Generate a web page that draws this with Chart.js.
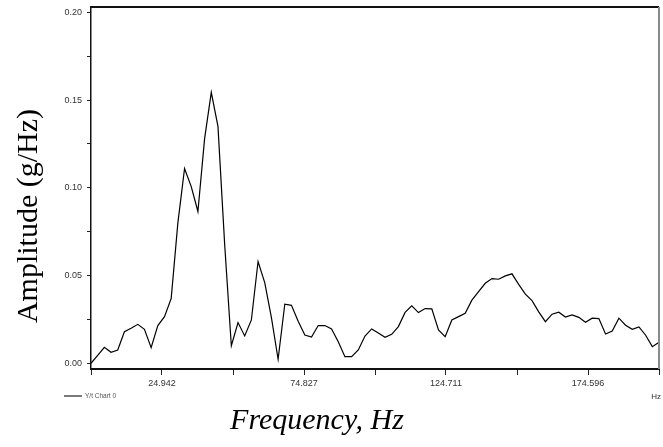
<!DOCTYPE html>
<html>
<head>
<meta charset="utf-8">
<script src="https://cdn.jsdelivr.net/npm/chart.js@4/dist/chart.umd.min.js"></script>
<style>
  html, body { margin: 0; padding: 0; background: #fff; }
  #chart { display: block; }
</style>
</head>
<body>
<canvas id="chart" width="663" height="447"></canvas>
<script>
// Spectrum: one amplitude value per FFT bin, bins spaced freqStep Hz apart
const freqStep = 2.34751;
const amplitude = [
    0.000, 0.0045, 0.0091, 0.0063, 0.0076, 0.018, 0.020, 0.0222, 0.0194, 0.0089,
    0.0215, 0.0266, 0.037, 0.080, 0.111, 0.1007, 0.0865, 0.128, 0.1544, 0.135,
    0.068, 0.010, 0.0232, 0.0156, 0.0247, 0.058, 0.046, 0.026, 0.0023, 0.0337,
    0.033, 0.024, 0.0161, 0.015, 0.0215, 0.0215, 0.0196, 0.0123, 0.0038, 0.0038,
    0.0076, 0.0155, 0.0196, 0.0173, 0.0148, 0.0165, 0.0209, 0.029, 0.0327, 0.0289,
    0.0312, 0.031, 0.019, 0.0152, 0.0247, 0.0266, 0.0285, 0.036, 0.0409, 0.0456,
    0.0483, 0.0479, 0.0498, 0.051, 0.045, 0.0394, 0.0357, 0.0293, 0.0237, 0.028,
    0.0291, 0.0264, 0.0276, 0.0262, 0.0234, 0.0257, 0.0255, 0.0167, 0.0184, 0.0257,
    0.0217, 0.0194, 0.0207, 0.016, 0.0095, 0.012
];

// Axis ticks (minor ticks carry an empty label)
const xTickValues = [0, 24.942, 49.885, 74.827, 99.769, 124.711, 149.654, 174.596, 199.538];
const xTickLabels = ['', '24.942', '', '74.827', '', '124.711', '', '174.596', ''];
const yTickValues = [0, 0.025, 0.05, 0.075, 0.1, 0.125, 0.15, 0.175, 0.2];
const yTickLabels = ['0.00', '', '0.05', '', '0.10', '', '0.15', '', '0.20'];

const seriesName = 'Y/t Chart 0';
const xTitle = 'Frequency, Hz';
const yTitle = 'Amplitude (g/Hz)';
const xUnit = 'Hz';

const points = amplitude.map((v, i) => ({ x: i * freqStep, y: v }));

// Draws the frame's top/right edges, axis titles and the little legend
const decorations = {
    id: 'decorations',
    afterDraw(chart) {
        const ctx = chart.ctx;
        const area = chart.chartArea;
        ctx.save();

        // top edge
        ctx.strokeStyle = '#111';
        ctx.lineWidth = 2;
        ctx.beginPath();
        ctx.moveTo(area.left, area.top);
        ctx.lineTo(area.right, area.top);
        ctx.stroke();

        // right edge (grey)
        ctx.strokeStyle = '#8a8a8a';
        ctx.beginPath();
        ctx.moveTo(area.right, area.top);
        ctx.lineTo(area.right, area.bottom);
        ctx.stroke();

        // y title
        ctx.fillStyle = '#000';
        ctx.font = '30px "Liberation Serif", "Times New Roman", serif';
        ctx.textAlign = 'center';
        ctx.textBaseline = 'alphabetic';
        ctx.save();
        ctx.translate(37, 216);
        ctx.rotate(-Math.PI / 2);
        ctx.fillText(yTitle, 0, 0);
        ctx.restore();

        // x title
        ctx.font = 'italic 30px "Liberation Serif", "Times New Roman", serif';
        ctx.fillText(xTitle, 317, 429);

        // legend
        ctx.strokeStyle = '#222';
        ctx.lineWidth = 1.2;
        ctx.beginPath();
        ctx.moveTo(64, 396);
        ctx.lineTo(82, 396);
        ctx.stroke();
        ctx.fillStyle = '#555';
        ctx.font = '6.5px "Liberation Sans", Arial, sans-serif';
        ctx.textAlign = 'left';
        ctx.textBaseline = 'middle';
        ctx.fillText(seriesName, 85, 396.5);

        // unit label
        ctx.font = '8px "Liberation Sans", Arial, sans-serif';
        ctx.textAlign = 'right';
        ctx.fillStyle = '#333';
        ctx.fillText(xUnit, 661, 397);

        ctx.restore();
    }
};

new Chart(document.getElementById('chart'), {
    type: 'line',
    data: {
        datasets: [{
            label: seriesName,
            data: points,
            borderColor: '#000',
            borderWidth: 1.2,
            pointRadius: 0,
            tension: 0,
            fill: false
        }]
    },
    options: {
        responsive: false,
        devicePixelRatio: 1,
        animation: false,
        events: [],
        layout: { padding: { top: 7, right: 4, bottom: 0, left: 0 } },
        plugins: {
            legend: { display: false },
            tooltip: { enabled: false }
        },
        scales: {
            x: {
                type: 'linear',
                position: 'bottom',
                min: 0,
                max: 199.538,
                afterFit: scale => {
                    scale.height = 78;
                    scale.paddingLeft = 0;
                    scale.paddingRight = 0;
                },
                afterBuildTicks: scale => {
                    scale.ticks = xTickValues.map(v => ({ value: v }));
                },
                ticks: {
                    autoSkip: false,
                    maxRotation: 0,
                    padding: 3,
                    color: '#333',
                    font: { family: '"Liberation Sans", Arial, sans-serif', size: 9 },
                    callback: (value, index) => xTickLabels[index]
                },
                grid: {
                    drawOnChartArea: false,
                    tickLength: 6,
                    color: '#222'
                },
                border: { color: '#111', width: 2 }
            },
            y: {
                min: -0.00325,
                max: 0.20305,
                afterFit: scale => {
                    scale.width = 91;
                    scale.paddingTop = 0;
                    scale.paddingBottom = 0;
                },
                afterBuildTicks: scale => {
                    scale.ticks = yTickValues.map(v => ({ value: v }));
                },
                ticks: {
                    autoSkip: false,
                    padding: 5,
                    color: '#333',
                    font: { family: '"Liberation Sans", Arial, sans-serif', size: 9 },
                    callback: (value, index) => yTickLabels[index]
                },
                grid: {
                    drawOnChartArea: false,
                    tickLength: 4,
                    color: '#222'
                },
                border: { color: '#111', width: 1.5 }
            }
        }
    },
    plugins: [decorations]
});
</script>
</body>
</html>
